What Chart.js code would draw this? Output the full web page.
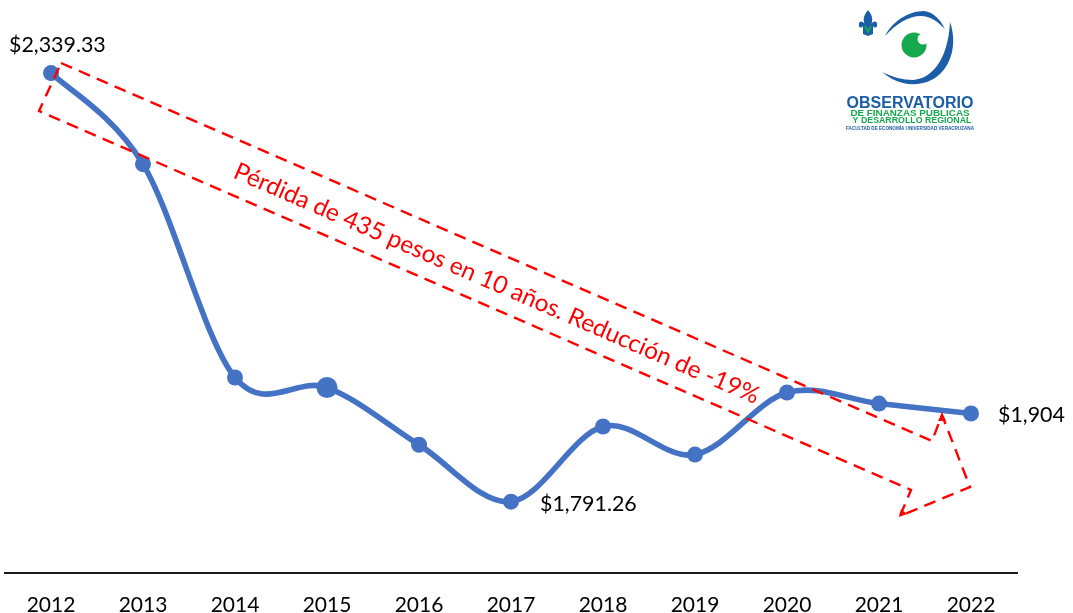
<!DOCTYPE html>
<html><head><meta charset="utf-8">
<style>html,body{margin:0;padding:0;background:#fff}canvas{display:block}</style>
<script src="https://cdn.jsdelivr.net/npm/chart.js@4"></script>
</head><body><canvas id="c" width="1073" height="613"></canvas>
<script>
const years = ["2012","2013","2014","2015","2016","2017","2018","2019","2020","2021","2022"];
const values = [2339.33,2222.8,1950,1937.2,1864,1791.26,1887.3,1851.4,1930.8,1916.7,1904];
const pointLabels = {0:"$2,339.33",5:"$1,791.26",10:"$1,904"};
const calloutText = "Pérdida de 435 pesos en 10 años. Reducción de -19%";
const FONT = 'Lato, "Open Sans", sans-serif';

// Spreadsheet-style smoothing: control points depend only on the neighbouring points.
const evenSmoothing = {
  id:'evenSmoothing',
  beforeDatasetDraw(chart,args){
    const line = args.meta.dataset, pts = args.meta.data;
    line.updateControlPoints(chart.chartArea,'x');
    pts.forEach((p,i)=>{
      const a = pts[Math.max(i-1,0)], b = pts[Math.min(i+1,pts.length-1)];
      const dx=(b.x-a.x)/6, dy=(b.y-a.y)/6;
      p.cp1x=p.x-dx; p.cp1y=p.y-dy; p.cp2x=p.x+dx; p.cp2y=p.y+dy;
    });
  }
};

const overlay = {
  id:'overlay',
  afterDatasetsDraw(chart){
    const g = chart.ctx;
    const x = chart.scales.x, y = chart.scales.y;
    g.save();
    // callout arrow outline
    const arrow = [[61,63],[932,441],[942,415],[970,487],[900,516],[911,490],[39,111]];
    g.strokeStyle='#ff0000'; g.lineWidth=2.4; g.setLineDash([12,7.5]);
    g.beginPath(); arrow.forEach((p,i)=> i?g.lineTo(p[0],p[1]):g.moveTo(p[0],p[1])); g.closePath(); g.stroke();
    g.setLineDash([]);
    g.fillStyle='#ff0000';
    [[[942,413],[938,421],[946,421]],[[899,517],[901,509],[907,514]]].forEach(t=>{
      g.beginPath(); g.moveTo(t[0][0],t[0][1]); g.lineTo(t[1][0],t[1][1]); g.lineTo(t[2][0],t[2][1]); g.fill();
    });
    // callout text
    g.save();
    g.translate(240,159); g.rotate(Math.atan2(378,871));
    g.fillStyle='#ff0000'; g.font='24.3px '+FONT; g.textBaseline='top'; g.textAlign='left';
    g.fillText(calloutText,0,0);
    g.restore();
    // value labels
    g.fillStyle='#000'; g.font='21.4px '+FONT; g.textBaseline='middle'; g.textAlign='left';
    const off = {0:[-42,-28],5:[29,2],10:[27,2]};
    Object.keys(pointLabels).forEach(i=>{
      g.fillText(pointLabels[i], x.getPixelForValue(+i)+off[i][0], y.getPixelForValue(values[i])+off[i][1]);
    });
    // logo
    const blue='#1c5da8', green='#16a84f';
    g.fillStyle=blue;
    g.beginPath(); g.moveTo(885,36);
    g.bezierCurveTo(892,22,908,11,924,11);
    g.bezierCurveTo(933,12,940,19,945,29);
    g.bezierCurveTo(937,21,930,16,921,16);
    g.bezierCurveTo(908,16,896,24,885,36);
    g.fill();
    g.beginPath(); g.moveTo(950,22);
    g.bezierCurveTo(957,42,952,62,941,73);
    g.bezierCurveTo(930,84,915,86,903,83);
    g.bezierCurveTo(895,81,888,77,882,72);
    g.bezierCurveTo(892,77,903,80,913,80);
    g.bezierCurveTo(930,79,948,62,950,22);
    g.fill();
    g.fillStyle=green;
    g.beginPath(); g.arc(914,45,12.5,0,Math.PI*2); g.fill();
    g.fillStyle='#fff';
    g.beginPath(); g.arc(923,39,5.5,0,Math.PI*2); g.fill();
    // fleur
    g.fillStyle=blue;
    g.beginPath(); g.moveTo(868,10);
    g.bezierCurveTo(873,16,873,20,871,25);
    g.bezierCurveTo(872,21,877,20,877,24);
    g.bezierCurveTo(878,27,875,29,873,26);
    g.lineTo(873,34); g.lineTo(868,36); g.lineTo(863,34); g.lineTo(863,26);
    g.bezierCurveTo(861,29,858,27,859,24);
    g.bezierCurveTo(859,20,864,21,865,25);
    g.bezierCurveTo(863,20,863,16,868,10);
    g.fill();
    g.strokeStyle=green; g.lineWidth=1.8; g.beginPath(); g.moveTo(865,26); g.lineTo(868,32); g.lineTo(871,26); g.stroke();
    g.textAlign='center'; g.textBaseline='alphabetic';
    g.fillStyle=blue; g.font='bold 16px "Liberation Sans"'; g.fillText('OBSERVATORIO',910,107.5);
    g.fillStyle=green; g.font='bold 9.85px "Liberation Sans"'; g.fillText('DE FINANZAS PÚBLICAS',910,115.5);
    g.font='bold 8.8px "Liberation Sans"'; g.fillText('Y DESARROLLO REGIONAL',912,123);
    g.fillStyle=blue; g.font='bold 4.6px "Liberation Sans"'; g.fillText('FACULTAD DE ECONOMÍA UNIVERSIDAD VERACRUZANA',910,130);
    g.restore();
  }
};

new Chart(document.getElementById('c'),{
  type:'line',
  data:{labels:years,datasets:[{
    data:values,borderColor:'#4472C4',backgroundColor:'#4472C4',borderWidth:5.6,
    tension:0.5,clip:false,
    pointRadius:[8,8,8,10.5,8,8,8,8,8,8,8],pointBorderWidth:0,pointBackgroundColor:'#4472C4'
  }]},
  options:{
    responsive:false,animation:false,
    layout:{autoPadding:false,padding:{left:5,right:56,top:25.6,bottom:0}},
    plugins:{legend:{display:false},tooltip:{enabled:false},title:{display:false}},
    elements:{line:{capBezierPoints:false,borderCapStyle:'round'}},
    scales:{
      y:{display:false,min:1700,max:2400},
      x:{offset:true,grid:{display:false},
        border:{display:true,color:'#1a1a1a',width:2},
        ticks:{color:'#000',font:{family:FONT,size:21},maxRotation:0,autoSkip:false,padding:12},
        afterFit(s){s.height=40;s.paddingLeft=0;s.paddingRight=0;}
      }
    }
  },
  plugins:[evenSmoothing,overlay]
});
</script></body></html>
